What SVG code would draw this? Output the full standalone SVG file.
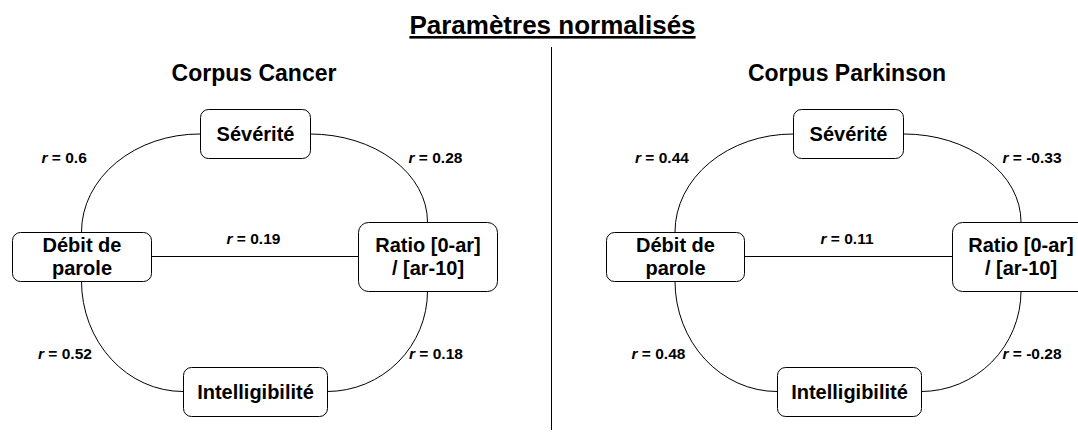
<svg xmlns="http://www.w3.org/2000/svg" width="1078" height="432" viewBox="0 0 1078 432">
<style>
text{font-family:"Liberation Sans",Arial,sans-serif;font-weight:bold;fill:#000}
.title{font-size:26px;text-decoration:underline}
.corpus{font-size:23px}
.node rect{fill:#fff;stroke:#000;stroke-width:1}
.node text{font-size:20px;text-anchor:middle}
.edges path{fill:none;stroke:#000;stroke-width:1}
.lbl{font-size:15.5px}
.lbl .r{font-style:italic}
</style>
<rect width="1078" height="432" fill="#fff"/>
<text class="title" x="552.5" y="34" text-anchor="middle">Paramètres normalisés</text>
<line x1="551.5" y1="47" x2="551.5" y2="430" stroke="#000" stroke-width="1"/>
<text class="corpus" x="254" y="81" text-anchor="middle">Corpus Cancer</text>
<text class="corpus" x="847" y="81" text-anchor="middle">Corpus Parkinson</text>

<g class="edges" id="connectors">
  <path d="M200,134 A118,98 0 0 0 81.5,232"/>
  <path d="M310,134 A117.5,88 0 0 1 427.5,222"/>
  <path d="M81.5,281 A101.5,110.5 0 0 0 183,391.5"/>
  <path d="M427.5,291 A100.5,100.5 0 0 1 327,391.5"/>
  <path d="M151,256.5 L358,256.5"/>
  <path d="M793,134 A118,98 0 0 0 675,232"/>
  <path d="M904,134 A117,88 0 0 1 1021,222"/>
  <path d="M675,281 A102,110.5 0 0 0 777,391.5"/>
  <path d="M1021,291 A100,100.5 0 0 1 921,391.5"/>
  <path d="M744,256.5 L952,256.5"/>
</g>

<g id="labels">
  <text class="lbl" x="41.5" y="163"><tspan class="r">r</tspan> = 0.6</text>
  <text class="lbl" x="408.5" y="163"><tspan class="r">r</tspan> = 0.28</text>
  <text class="lbl" x="226.5" y="244"><tspan class="r">r</tspan> = 0.19</text>
  <text class="lbl" x="38" y="359"><tspan class="r">r</tspan> = 0.52</text>
  <text class="lbl" x="409" y="359"><tspan class="r">r</tspan> = 0.18</text>
  <text class="lbl" x="635" y="163"><tspan class="r">r</tspan> = 0.44</text>
  <text class="lbl" x="1002.5" y="163"><tspan class="r">r</tspan> = -0.33</text>
  <text class="lbl" x="820.5" y="243.5"><tspan class="r">r</tspan> = 0.11</text>
  <text class="lbl" x="631.5" y="359"><tspan class="r">r</tspan> = 0.48</text>
  <text class="lbl" x="1002.5" y="359"><tspan class="r">r</tspan> = -0.28</text>
</g>

<g class="node" id="cancer-severite">
  <rect x="200.5" y="109.5" width="110" height="49" rx="8"/>
  <text x="255.5" y="141">Sévérité</text>
</g>
<g class="node" id="cancer-debit">
  <rect x="12.5" y="232.5" width="139" height="49" rx="8"/>
  <text x="82" y="251.5">Débit de</text>
  <text x="82" y="274.5">parole</text>
</g>
<g class="node" id="cancer-ratio">
  <rect x="358.5" y="222.5" width="139" height="69" rx="10"/>
  <text x="428" y="251.5">Ratio [0-ar]</text>
  <text x="428" y="275">/ [ar-10]</text>
</g>
<g class="node" id="cancer-intelligibilite">
  <rect x="183.5" y="367.5" width="144" height="49" rx="8"/>
  <text x="255.5" y="398.5">Intelligibilité</text>
</g>

<g class="node" id="parkinson-severite">
  <rect x="793.5" y="109.5" width="110" height="49" rx="8"/>
  <text x="848.5" y="141">Sévérité</text>
</g>
<g class="node" id="parkinson-debit">
  <rect x="606.5" y="232.5" width="138" height="49" rx="8"/>
  <text x="675.5" y="251.5">Débit de</text>
  <text x="675.5" y="274.5">parole</text>
</g>
<g class="node" id="parkinson-ratio">
  <rect x="952.5" y="222.5" width="139" height="69" rx="10"/>
  <text x="1021" y="251.5">Ratio [0-ar]</text>
  <text x="1021" y="275">/ [ar-10]</text>
</g>
<g class="node" id="parkinson-intelligibilite">
  <rect x="777.5" y="367.5" width="144" height="49" rx="8"/>
  <text x="849.5" y="398.5">Intelligibilité</text>
</g>
</svg>
